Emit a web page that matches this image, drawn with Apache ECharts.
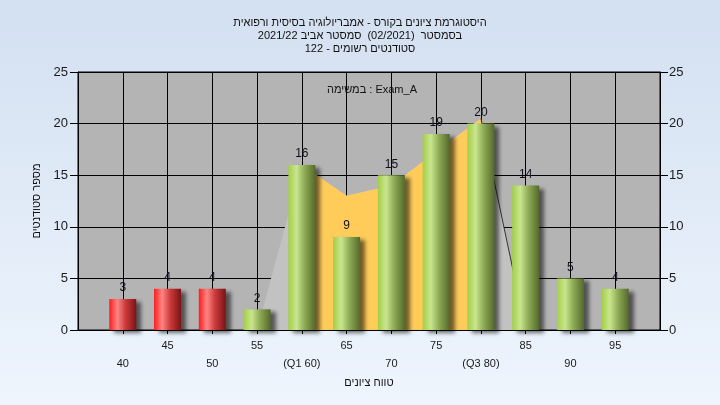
<!DOCTYPE html>
<html><head><meta charset="utf-8">
<script src="https://cdn.jsdelivr.net/npm/echarts@6/dist/echarts.min.js"></script>
<style>html,body{margin:0;padding:0;width:720px;height:405px;overflow:hidden}#c{width:720px;height:405px}</style>
</head><body><div id="c"></div>
<script>
const titleLines = ['היסטוגרמת ציונים בקורס - אמבריולוגיה בסיסית ורפואית', 'בסמסטר  (02/2021)  סמסטר אביב 2021/22', 'סטודנטים רשומים - 122'];
const legendText = 'במשימה : Exam_A';
const xAxisTitle = 'טווח ציונים';
const yAxisTitle = 'מספר סטודנטים';
const grades = [40, 45, 50, 55, 60, 65, 70, 75, 80, 85, 90, 95];
const gradeLabels = ['40', '45', '50', '55', '(Q1 60)', '65', '70', '75', '(Q3 80)', '85', '90', '95'];
const counts = [3, 4, 4, 2, 16, 9, 15, 19, 20, 14, 5, 4];
const passGrade = 55;
const q1 = 60, q3 = 80;
const curveX = [55, 60, 65, 70, 75, 80, 85];
const curveY = [0, 16, 13, 14, 17.3, 20.5, 0];
const yMin = 0, yMax = 25, yStep = 5;
const xMin = 35, xMax = 100, xStep = 5;

const FONT = 'Liberation Sans';

const greenGrad = new echarts.graphic.LinearGradient(0, 0, 1, 0, [
  {offset: 0, color: '#a3cf45'}, {offset: 0.3, color: '#c9e58f'},
  {offset: 0.6, color: '#8eab55'}, {offset: 1, color: '#55692c'}]);
const redGrad = new echarts.graphic.LinearGradient(0, 0, 1, 0, [
  {offset: 0, color: '#ff1c1c'}, {offset: 0.3, color: '#ff8585'},
  {offset: 0.6, color: '#cc3a3a'}, {offset: 1, color: '#7a1414'}]);

const curve = curveX.map((x, i) => [x, curveY[i]]);
const iqr = curve.filter(p => p[0] >= q1 && p[0] <= q3);
const tail = curve.filter(p => p[0] >= q3);

const chart = echarts.init(document.getElementById('c'));
const yAxisBase = {
  type: 'value', min: yMin, max: yMax, interval: yStep,
  axisLine: {show: true, lineStyle: {color: '#000'}},
  axisTick: {show: true, length: 8, lineStyle: {color: '#000'}},
  axisLabel: {fontSize: 13, color: '#1a1a1a', fontFamily: FONT, margin: 10}
};
chart.setOption({
  animation: false,
  backgroundColor: new echarts.graphic.LinearGradient(0, 0, 0, 1, [
    {offset: 0, color: '#d3e0f1'}, {offset: 1, color: '#eef5fd'}]),
  title: [{
    text: titleLines.join('\n'),
    left: 'center', top: 11,
    textStyle: {fontSize: 11, lineHeight: 13, fontWeight: 'normal', color: '#111', fontFamily: FONT}
  }, {
    text: legendText, left: 367, top: 79, textAlign: 'center',
    textStyle: {fontSize: 11, fontWeight: 'normal', color: '#111', fontFamily: FONT}
  }],
  grid: {left: 78, right: 60, top: 72, bottom: 75, show: true,
    backgroundColor: '#b4b4b4', borderColor: '#000', borderWidth: 1},
  xAxis: {
    type: 'value', min: xMin, max: xMax, interval: xStep,
    name: xAxisTitle, nameLocation: 'middle', nameGap: 46,
    nameTextStyle: {fontSize: 11, color: '#111', fontFamily: FONT},
    axisLine: {show: true, lineStyle: {color: '#000'}},
    axisTick: {show: true, length: 4, customValues: grades, lineStyle: {color: '#000'}},
    axisLabel: {customValues: grades, fontSize: 11, color: '#1a1a1a', fontFamily: FONT,
      margin: 7, lineHeight: 18,
      formatter: v => { const i = grades.indexOf(v); return i < 0 ? '' : (i % 2 === 0 ? '\n' + gradeLabels[i] : gradeLabels[i]); }},
    splitLine: {show: true, lineStyle: {color: '#000', width: 1}}
  },
  yAxis: [Object.assign({}, yAxisBase, {
    position: 'left',
    name: yAxisTitle, nameLocation: 'middle', nameGap: 36, nameRotate: 90,
    nameTextStyle: {fontSize: 11, color: '#111', fontFamily: FONT},
    splitLine: {show: true, lineStyle: {color: '#000', width: 1}}
  }), Object.assign({}, yAxisBase, {position: 'right', axisLabel: Object.assign({}, yAxisBase.axisLabel, {margin: 9}), splitLine: {show: false}})],
  series: [{
    type: 'line', data: curve, symbol: 'none', silent: true, z: 1,
    lineStyle: {width: 0}, areaStyle: {color: '#c2c2c2', opacity: 1}
  }, {
    type: 'line', data: iqr, symbol: 'none', silent: true, z: 1,
    lineStyle: {width: 0}, areaStyle: {color: '#ffcc5a', opacity: 1}
  }, {
    type: 'line', data: tail, symbol: 'none', silent: true, z: 1,
    lineStyle: {width: 1, color: '#333'}
  }, {
    type: 'bar', barWidth: 27, z: 5,
    data: grades.map((g, i) => ({value: [g, counts[i]],
      itemStyle: {color: g < passGrade ? redGrad : greenGrad}})),
    itemStyle: {shadowColor: 'rgba(0,0,0,0.55)', shadowBlur: 4, shadowOffsetX: 5, shadowOffsetY: 3},
    label: {show: true, position: 'top', distance: 5, fontSize: 12, color: '#10101a', fontFamily: FONT}
  }]
});
</script></body></html>
